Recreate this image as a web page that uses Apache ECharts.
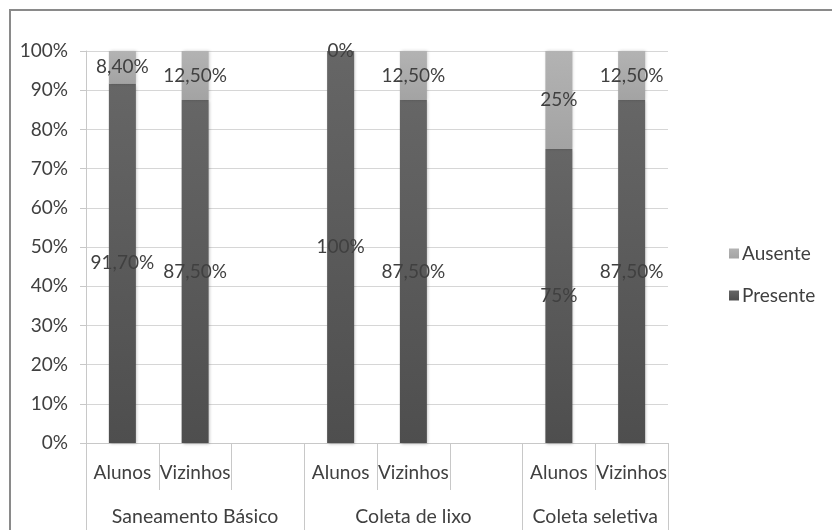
<!DOCTYPE html>
<html>
<head>
<meta charset="utf-8">
<script src="https://cdn.jsdelivr.net/npm/echarts@6/dist/echarts.min.js"></script>
<style>
  html, body { margin: 0; padding: 0; background: #fff; overflow: hidden; }
  #frame {
    position: absolute; left: 9px; top: 9px; width: 900px; height: 600px;
    border-left: 2px solid #8a8a8a; border-top: 2px solid #8a8a8a;
  }
  #chart { position: absolute; left: 0; top: 0; width: 832px; height: 530px; }
</style>
</head>
<body>
<div id="frame"></div>
<div id="chart"></div>
<script>
// Sub-categories along the lower axis (empty slot = spacer between groups)
const categories = ['Alunos', 'Vizinhos', '', 'Alunos', 'Vizinhos', '', 'Alunos', 'Vizinhos'];
// Group labels and how many slots each group covers
const groups = ['Saneamento Básico', 'Coleta de lixo', 'Coleta seletiva'];
const groupSpan = [3, 3, 2];
// Percentages per slot
const presente = [91.7, 87.5, null, 100, 87.5, null, 75, 87.5];
const ausente  = [8.4, 12.5, null, 0, 12.5, null, 25, 12.5];
const yTicks = { min: 0, max: 100, step: 10 };

// Second-level axis built on half-slot points: group labels at centres, ticks at boundaries
const halfPoints = [];
const boundaryIdx = new Set([0]);
const labelIdx = {};
let pos = 0;
groups.forEach((g, i) => {
  labelIdx[pos + groupSpan[i]] = g;
  pos += groupSpan[i] * 2;
  boundaryIdx.add(pos);
});
for (let i = 0; i <= pos; i++) halfPoints.push(labelIdx[i] || '');

const pct = v => (Number.isInteger(v) ? String(v) : v.toFixed(2).replace('.', ',')) + '%';

const FONT = 'Lato';
const TXT = '#404040';
const LINE = '#c8c8c8';

const chart = echarts.init(document.getElementById('chart'), null, { renderer: 'canvas' });
chart.setOption({
  backgroundColor: 'transparent',
  animation: false,
  textStyle: { fontFamily: FONT },
  grid: { left: 86, top: 51, right: 164, bottom: 87, containLabel: false },
  legend: {
    orient: 'vertical',
    left: 724, top: 239,
    itemWidth: 10, itemHeight: 10, itemGap: 23,
    icon: 'rect',
    data: ['Ausente', 'Presente'],
    textStyle: { fontFamily: FONT, fontSize: 19, color: TXT, padding: [0, 0, 0, -2] }
  },
  xAxis: [
    {
      type: 'category',
      data: categories,
      position: 'bottom',
      axisLine: { show: true, lineStyle: { color: LINE, width: 1 } },
      axisTick: { show: true, interval: 0, length: 47, lineStyle: { color: LINE } },
      axisLabel: { interval: 0, margin: 20, fontFamily: FONT, fontSize: 19, color: TXT }
    },
    {
      type: 'category',
      data: halfPoints,
      boundaryGap: false,
      position: 'bottom',
      offset: 47,
      axisLine: { show: false },
      axisTick: {
        show: true, length: 50, lineStyle: { color: LINE },
        interval: (idx) => boundaryIdx.has(idx)
      },
      axisLabel: {
        interval: 0, margin: 17, fontFamily: FONT, fontSize: 19.5, color: TXT
      }
    }
  ],
  yAxis: {
    type: 'value',
    min: yTicks.min, max: yTicks.max, interval: yTicks.step,
    axisLine: { show: true, lineStyle: { color: LINE } },
    axisTick: { show: true, length: 6, lineStyle: { color: LINE } },
    splitLine: { lineStyle: { color: '#d6d6d6' } },
    axisLabel: { formatter: '{value}%', margin: 18, fontFamily: FONT, fontSize: 19, color: TXT }
  },
  series: [
    {
      name: 'Presente',
      type: 'bar',
      stack: 'total',
      barWidth: 27,
      data: presente,
      itemStyle: {
        color: new echarts.graphic.LinearGradient(0, 0, 0, 1, [
          { offset: 0, color: '#666666' }, { offset: 1, color: '#4e4e4e' }
        ]),
        shadowColor: 'rgba(0,0,0,0.25)', shadowBlur: 3, shadowOffsetX: 1, shadowOffsetY: 1
      },
      label: {
        show: true, position: 'inside', formatter: p => pct(p.value),
        fontFamily: FONT, fontSize: 19, color: TXT
      }
    },
    {
      name: 'Ausente',
      type: 'bar',
      stack: 'total',
      barWidth: 27,
      data: ausente,
      itemStyle: {
        color: new echarts.graphic.LinearGradient(0, 0, 0, 1, [
          { offset: 0, color: '#b3b3b3' }, { offset: 1, color: '#a3a3a3' }
        ]),
        shadowColor: 'rgba(0,0,0,0.2)', shadowBlur: 3, shadowOffsetX: 1, shadowOffsetY: 0
      },
      label: {
        show: true, position: 'inside', formatter: p => pct(p.value),
        fontFamily: FONT, fontSize: 19, color: TXT
      }
    }
  ]
});
</script>
</body>
</html>
